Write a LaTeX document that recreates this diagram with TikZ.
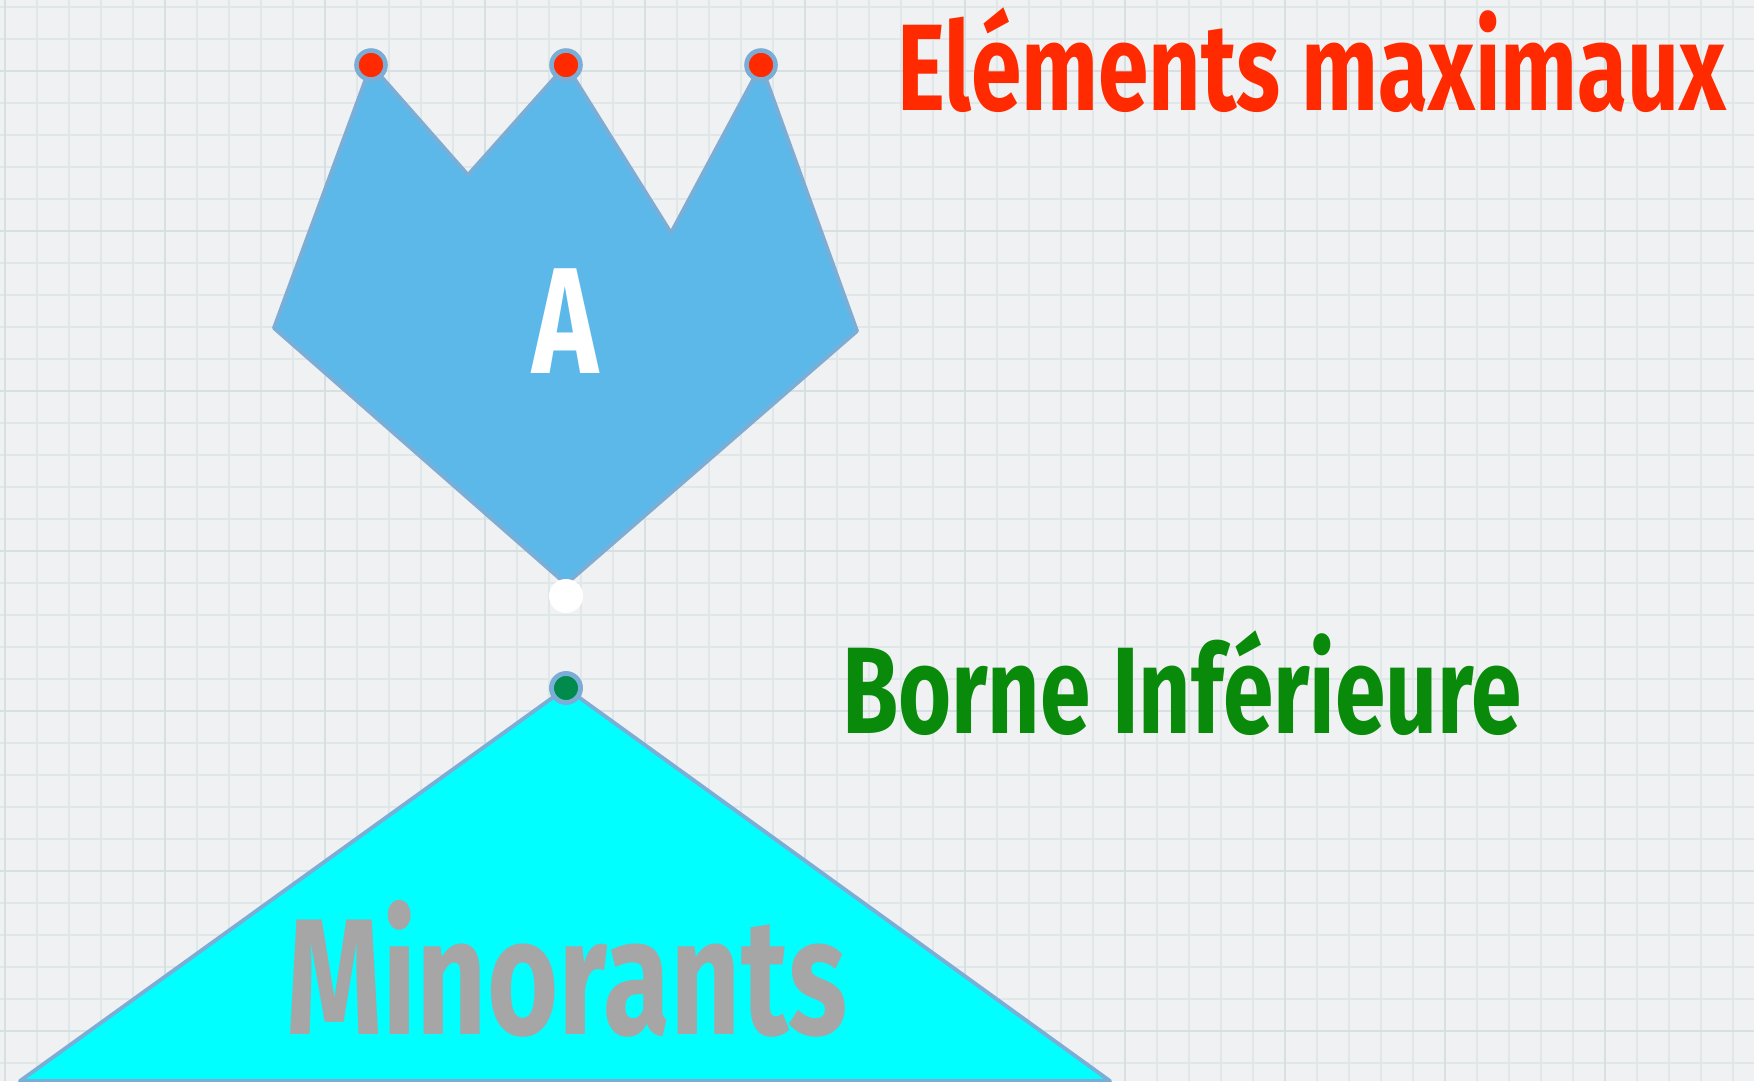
\documentclass[tikz,border=0pt]{standalone}
\usepackage{fontspec}
\setmainfont{Fira Sans}
\newfontfamily\handfont[FakeStretch=0.74]{Fira Sans}
\usetikzlibrary{positioning}
\definecolor{paper}{HTML}{F0F1F2}
\definecolor{gridline}{HTML}{E0E7E9}
\definecolor{gridmajor}{HTML}{D6E0E3}
\definecolor{crownfill}{HTML}{5DB8EA}
\definecolor{edgeblue}{HTML}{7BAED6}
\definecolor{ptred}{HTML}{FF2A00}
\definecolor{ptgreen}{HTML}{0A8A0A}
\definecolor{dotgreen}{HTML}{008A4C}
\definecolor{minfill}{HTML}{00FFFF}
\definecolor{mingray}{HTML}{A6A6A6}

\begin{document}
\begin{tikzpicture}[x=0.01cm, y=-0.01cm,
  maxdot/.style={circle, fill=ptred, draw=edgeblue, line width=1.3pt, inner sep=0pt, minimum size=0.29cm},
  infdot/.style={circle, fill=dotgreen, draw=edgeblue, line width=1.4pt, inner sep=0pt, minimum size=0.29cm},
  label/.style={inner sep=0pt, font=\handfont\bfseries\fontsize{35}{38}\selectfont}]
\useasboundingbox (0,0) rectangle (1754,1081);
\fill[paper] (0,0) rectangle (1754,1081);
% grid paper
\foreach \gx in {5,37,...,1754} \draw[gridline, line width=0.4pt] (\gx,0) -- (\gx,1081);
\foreach \gy in {7,39,...,1081} \draw[gridline, line width=0.4pt] (0,\gy) -- (1754,\gy);
\foreach \gx in {5,165,...,1754} \draw[gridmajor, line width=0.7pt] (\gx,0) -- (\gx,1081);
\foreach \gy in {71,231,...,1081} \draw[gridmajor, line width=0.7pt] (0,\gy) -- (1754,\gy);

% the set A
\filldraw[fill=crownfill, draw=edgeblue, line width=1.1pt, line join=round]
  (274,328) -- (371,65) -- (468,175) -- (566,65) -- (671,233) -- (761,65) -- (857,331) -- (566,584) -- cycle;
\node[text=white, font=\handfont\bfseries\fontsize{43}{46}\selectfont] (setA) at (566,321) {A};

% minorants
\filldraw[fill=minfill, draw=edgeblue, line width=1.1pt, line join=round]
  (566,688) -- (1110,1081) -- (20,1081) -- cycle;
\node[text=mingray, inner sep=0pt, font=\handfont\bfseries\fontsize{47}{51}\selectfont] (minlabel) at (567,969) {Minorants};

% points
\node[maxdot] (m1) at (371,65) {};
\node[maxdot] (m2) at (566,65) {};
\node[maxdot] (m3) at (761,65) {};
\node[circle, fill=white, inner sep=0pt, minimum size=0.34cm] (gap) at (566,596) {};
\node[infdot] (binf) at (566,688) {};

% labels
\node[label, text=ptred] (maxlabel) at (1312,60) {Eléments maximaux};
\node[label, text=ptgreen] (inflabel) at (1182,683) {Borne Inférieure};
\end{tikzpicture}
\end{document}
